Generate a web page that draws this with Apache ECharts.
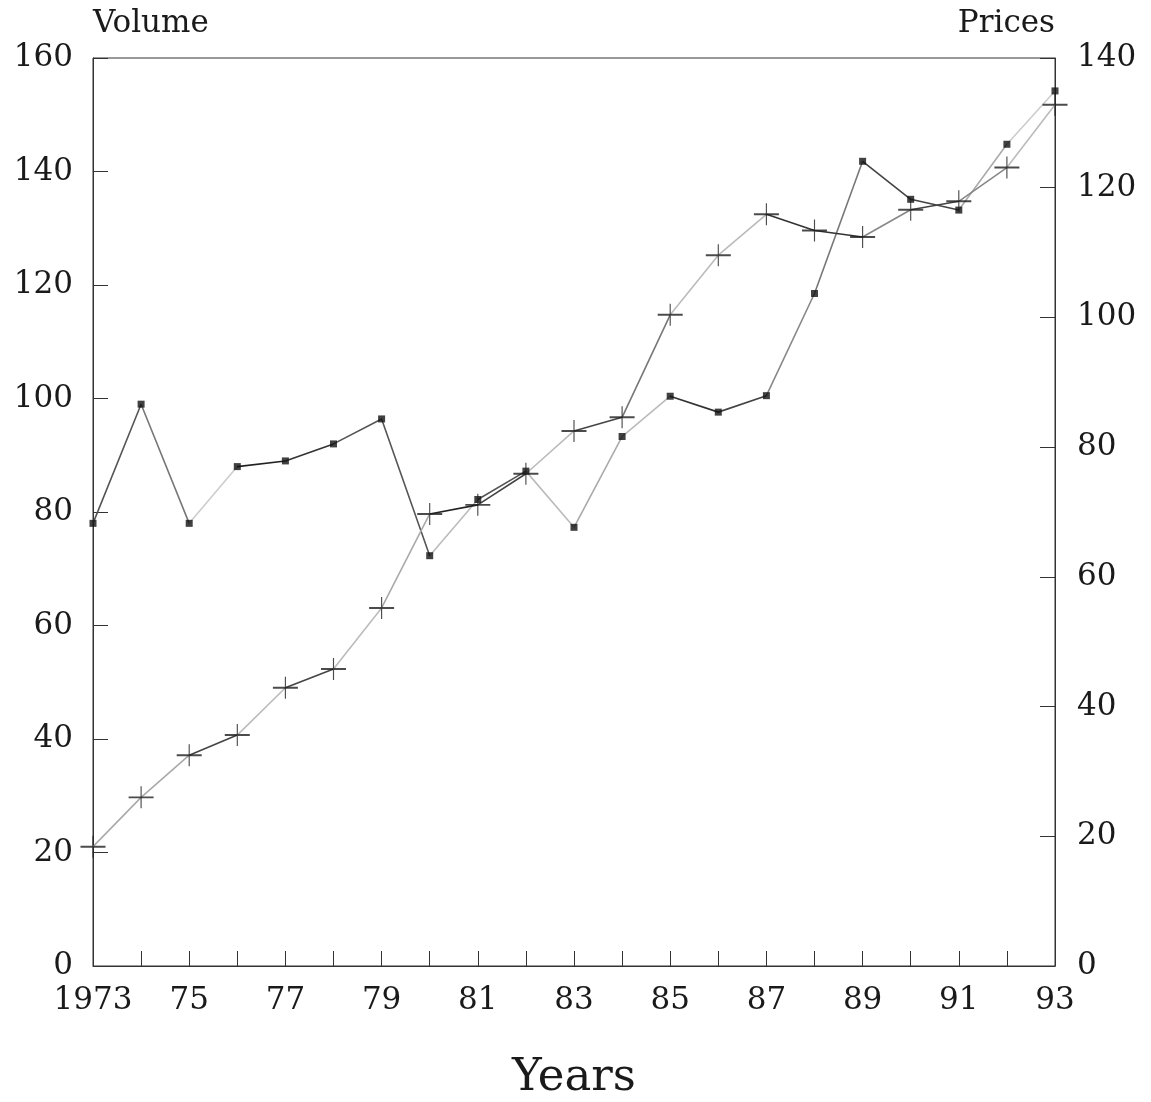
<!DOCTYPE html>
<html>
<head>
<meta charset="utf-8">
<title>Volume and Prices, 1973–93</title>
<script src="https://cdn.jsdelivr.net/npm/echarts@6/dist/echarts.min.js"></script>
<style>
  html, body { margin: 0; padding: 0; background: #fff; }
  #chart { width: 1151px; height: 1102px; }
</style>
</head>
<body>
<div id="chart"></div>
<script>
// Years on the horizontal axis (labels shown every other year)
const years = ['1973', '74', '75', '76', '77', '78', '79', '80', '81', '82',
               '83', '84', '85', '86', '87', '88', '89', '90', '91', '92', '93'];

// Volume (left scale), drawn with square markers
const volume = [78, 99, 78, 88, 89, 92, 96.4, 72.3, 82.2, 87.2,
                77.3, 93.3, 100.4, 97.6, 100.5, 118.5, 141.8, 135.1, 133.2, 144.8, 154.2];

// Prices (right scale), drawn with cross markers
const prices = [18.4, 26, 32.5, 35.6, 42.9, 45.8, 55.2, 69.7, 71.1, 75.9,
                82.5, 84.6, 100.4, 109.6, 115.9, 113.4, 112.4, 116.6, 117.9, 123.1, 132.8];

// Ink strength of each connecting segment (segment i joins year i to year i+1)
const volumeInk = ['#555', '#777', '#ccc', '#222', '#333', '#555', '#555', '#bbb', '#555', '#bbb',
                   '#aaa', '#bbb', '#333', '#444', '#888', '#777', '#444', '#444', '#aaa', '#ccc'];
const pricesInk = ['#aaa', '#aaa', '#444', '#bbb', '#444', '#bbb', '#aaa', '#222', '#444', '#bbb',
                   '#444', '#777', '#bbb', '#bbb', '#333', '#333', '#888', '#444', '#888', '#bbb'];

const FONT = 'DejaVu Serif';
const INK = '#1a1a1a';

function segmentPieces(inks) {
  return inks.map((c, i) => (i === inks.length - 1
    ? { gte: i, lte: i + 1, color: c }
    : { gte: i, lt: i + 1, color: c }));
}

const crossSymbol = 'path://M0,9.1 H22 V10.9 H0 Z M10.5,0 H11.5 V20 H10.5 Z';

const chart = echarts.init(document.getElementById('chart'), null, { renderer: 'canvas' });

chart.setOption({
  animation: false,
  backgroundColor: '#fff',
  grid: {
    left: 93, right: 96, top: 58, bottom: 136,
    outerBoundsMode: 'none',
    containLabel: false,
    show: true, borderColor: '#333', borderWidth: 1
  },
  xAxis: {
    type: 'category',
    data: years,
    boundaryGap: false,
    name: 'Years',
    nameLocation: 'middle',
    nameGap: 90,
    nameTextStyle: { fontFamily: FONT, fontSize: 45, color: INK },
    axisLine: { lineStyle: { color: '#333', width: 1 } },
    axisTick: { inside: true, length: 15, interval: 0, lineStyle: { color: '#333' } },
    axisLabel: { interval: 1, margin: 19, fontFamily: FONT, fontSize: 31, color: INK },
    splitLine: { show: false }
  },
  yAxis: [
    {
      type: 'value',
      min: 0, max: 160, interval: 20,
      position: 'left',
      name: 'Volume',
      nameLocation: 'end',
      nameGap: 19,
      nameTextStyle: { fontFamily: FONT, fontSize: 31, color: INK, align: 'left' },
      axisLine: { show: true, lineStyle: { color: '#333', width: 1 } },
      axisTick: { show: true, inside: true, length: 15, lineStyle: { color: '#333' } },
      axisLabel: { margin: 20, fontFamily: FONT, fontSize: 31, color: INK },
      splitLine: { show: false }
    },
    {
      type: 'value',
      min: 0, max: 140, interval: 20,
      position: 'right',
      name: 'Prices',
      nameLocation: 'end',
      nameGap: 19,
      nameTextStyle: { fontFamily: FONT, fontSize: 31, color: INK, align: 'right' },
      axisLine: { show: true, lineStyle: { color: '#333', width: 1 } },
      axisTick: { show: true, inside: true, length: 15, lineStyle: { color: '#333' } },
      axisLabel: { margin: 22, fontFamily: FONT, fontSize: 31, color: INK },
      splitLine: { show: false }
    }
  ],
  visualMap: [
    { show: false, type: 'piecewise', seriesIndex: 0, dimension: 0, pieces: segmentPieces(volumeInk) },
    { show: false, type: 'piecewise', seriesIndex: 1, dimension: 0, pieces: segmentPieces(pricesInk) }
  ],
  series: [
    {
      name: 'Volume line', type: 'line', yAxisIndex: 0, data: volume,
      showSymbol: false, lineStyle: { width: 1.6 }, z: 2
    },
    {
      name: 'Prices line', type: 'line', yAxisIndex: 1, data: prices,
      showSymbol: false, lineStyle: { width: 1.6 }, z: 2
    },
    {
      name: 'Volume', type: 'scatter', yAxisIndex: 0, data: volume,
      symbol: 'rect', symbolSize: 7, itemStyle: { color: '#111' }, z: 3
    },
    {
      name: 'Prices', type: 'scatter', yAxisIndex: 1, data: prices,
      symbol: crossSymbol, symbolSize: [25, 22], itemStyle: { color: '#1e1e1e' }, z: 3
    }
  ]
});
</script>
</body>
</html>
